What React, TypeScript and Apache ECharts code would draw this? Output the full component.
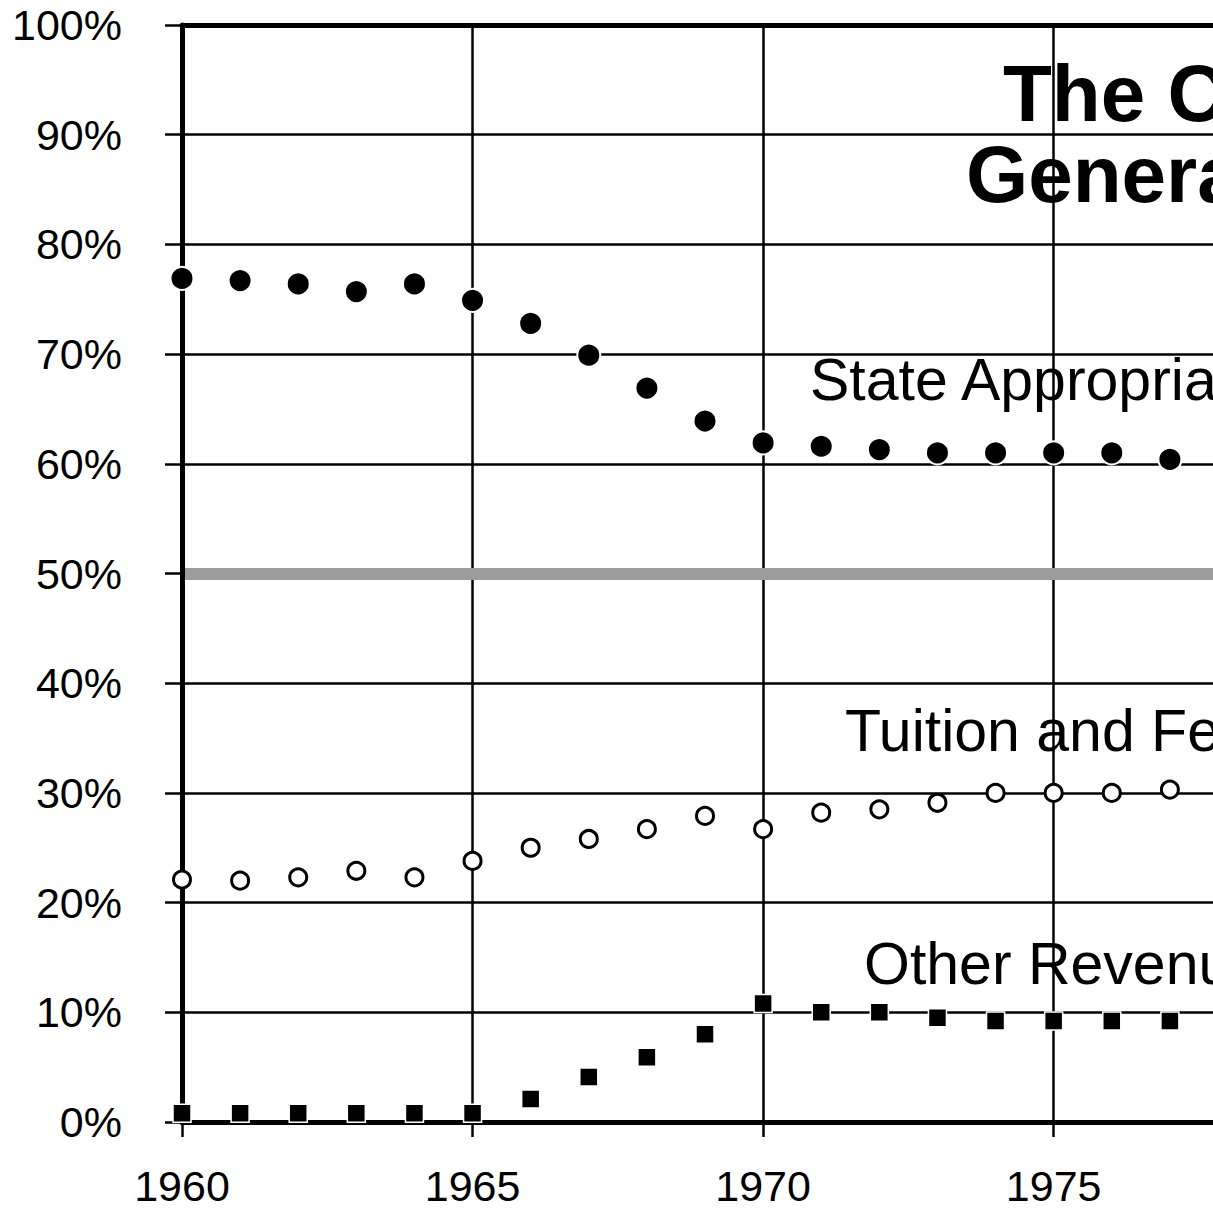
import React, { useEffect, useRef } from "react";
import * as echarts from "echarts";

const years = [1960, 1961, 1962, 1963, 1964, 1965, 1966, 1967, 1968, 1969, 1970, 1971, 1972, 1973, 1974, 1975, 1976, 1977];
const stateAppropriations = [76.9, 76.7, 76.4, 75.7, 76.4, 74.9, 72.8, 69.9, 66.9, 63.9, 61.9, 61.6, 61.3, 61.0, 61.0, 61.0, 61.0, 60.4];
const tuitionAndFees = [22.1, 22.0, 22.3, 22.9, 22.3, 23.8, 25.0, 25.8, 26.7, 27.9, 26.7, 28.2, 28.5, 29.1, 30.0, 30.0, 30.0, 30.3];
const otherRevenue = [0.8, 0.8, 0.8, 0.8, 0.8, 0.8, 2.1, 4.1, 5.9, 8.0, 10.8, 10.0, 10.0, 9.5, 9.2, 9.2, 9.2, 9.2];
const referenceLevel = 50;
const titleLines = ["The C", "Genera"];
const seriesNames = ["State Appropriations", "Tuition and Fees", "Other Revenue"];

const FONT = "'Liberation Sans', Arial, Helvetica, sans-serif";

export default function App() {
  const ref = useRef<HTMLDivElement>(null);
  useEffect(() => {
    const chart = echarts.init(ref.current!, null, { renderer: "svg" });
    const pair = (arr: number[]) => years.map((y, i) => [y, arr[i]]);
    chart.setOption({
      animation: false,
      backgroundColor: "#ffffff",
      grid: { left: 182, top: 25, right: 12, bottom: 89, containLabel: false, outerBoundsMode: "none" },
      xAxis: [
        {
          type: "value",
          min: 1960,
          max: 1978,
          interval: 5,
          position: "bottom",
          axisLine: { show: true, onZero: false, lineStyle: { color: "#000", width: 5 } },
          axisTick: { show: true, length: 15, lineStyle: { color: "#000", width: 2.5 } },
          axisLabel: {
            show: true,
            color: "#000",
            fontSize: 43,
            fontFamily: FONT,
            margin: 42,
            formatter: (v: number) => (v % 5 === 0 ? String(v) : ""),
          },
          splitLine: { show: true, lineStyle: { color: "#000", width: 2.5 } },
        },
        {
          type: "value",
          min: 1960,
          max: 1978,
          interval: 5,
          position: "top",
          axisLine: { show: true, onZero: false, lineStyle: { color: "#000", width: 5 } },
          axisTick: { show: false },
          axisLabel: { show: false },
          splitLine: { show: false },
        },
      ],
      yAxis: {
        type: "value",
        min: 0,
        max: 100,
        interval: 10,
        axisLine: { show: true, lineStyle: { color: "#000", width: 5 } },
        axisTick: { show: true, length: 17, lineStyle: { color: "#000", width: 2.5 } },
        axisLabel: { color: "#000", fontSize: 43, fontFamily: FONT, margin: 60, formatter: "{value}%" },
        splitLine: { show: true, lineStyle: { color: "#000", width: 2.5 } },
      },
      series: [
        {
          type: "line",
          data: [],
          silent: true,
          z: 3,
          markLine: {
            silent: true,
            symbol: "none",
            label: { show: false },
            data: [
              { yAxis: referenceLevel, lineStyle: { color: "#9c9c9c", width: 12, type: "solid" } },
              { xAxis: 1960, lineStyle: { color: "#000", width: 5, type: "solid" } },
            ],
          },
        },
        {
          name: seriesNames[0],
          type: "scatter",
          z: 5,
          symbol: "circle",
          symbolSize: 23,
          itemStyle: { color: "#000", borderColor: "#fff", borderWidth: 2, opacity: 1 },
          data: pair(stateAppropriations),
        },
        {
          name: seriesNames[1],
          type: "scatter",
          z: 5,
          symbol: "circle",
          symbolSize: 17,
          itemStyle: { color: "#fff", borderColor: "#000", borderWidth: 3, opacity: 1 },
          data: pair(tuitionAndFees),
        },
        {
          name: seriesNames[2],
          type: "scatter",
          z: 5,
          symbol: "rect",
          symbolSize: 18,
          itemStyle: { color: "#000", borderColor: "#fff", borderWidth: 1.5, opacity: 1 },
          data: pair(otherRevenue),
        },
      ],
      graphic: [
        { type: "text", left: 1003, top: 53, z: 10, style: { text: titleLines[0], font: `bold 80px ${FONT}`, fill: "#000" } },
        { type: "text", left: 966, top: 134, z: 10, style: { text: titleLines[1], font: `bold 80px ${FONT}`, fill: "#000" } },
        { type: "text", x: 810, y: 380, z: 10, style: { text: seriesNames[0], font: `59px ${FONT}`, fill: "#000", verticalAlign: "middle" } },
        { type: "text", x: 845, y: 731, z: 10, style: { text: seriesNames[1], font: `59px ${FONT}`, fill: "#000", verticalAlign: "middle" } },
        { type: "text", x: 864, y: 964, z: 10, style: { text: seriesNames[2], font: `59px ${FONT}`, fill: "#000", verticalAlign: "middle" } },
      ],
    });
    return () => chart.dispose();
  }, []);
  return (
    <div style={{ position: "fixed", left: 0, top: 0, width: 1213, height: 1211, overflow: "hidden", background: "#fff" }}>
      <div ref={ref} style={{ width: 1240, height: 1211 }} />
    </div>
  );
}
